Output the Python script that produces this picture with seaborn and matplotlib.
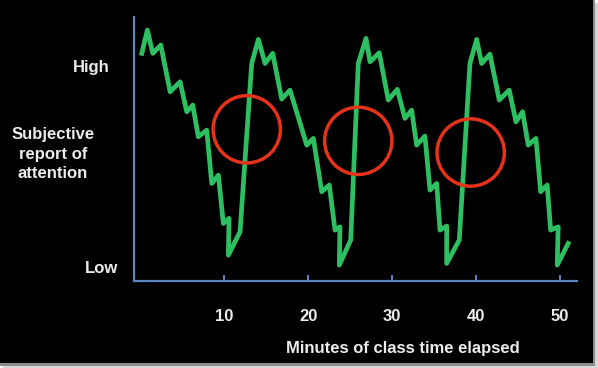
import numpy as np
import pandas as pd
import matplotlib
matplotlib.use("Agg")
import matplotlib.pyplot as plt
import seaborn as sns
from matplotlib.patches import Rectangle

# attention trace (0 = Low, 10 = High)
minutes = [0.17, 0.83, 1.48, 2.43, 3.54, 4.73, 5.52, 6.24, 6.90, 7.90,
           8.50, 9.29, 9.88, 10.56, 10.48, 11.87, 13.26, 14.05, 14.85, 15.76,
           16.83, 17.82, 19.81, 20.60, 21.60, 22.50, 23.18, 23.77, 23.69, 25.05,
           25.95, 26.87, 27.35, 28.45, 29.52, 30.60, 31.51, 32.31, 32.90, 33.89,
           34.49, 35.29, 35.68, 36.48, 36.48, 37.98, 39.25, 40.05, 40.64, 41.63,
           42.74, 43.93, 44.73, 45.52, 46.19, 47.11, 47.67, 48.45, 48.86, 49.76,
           49.64, 50.95]
attention = [10.63, 11.78, 10.63, 11.04, 8.73, 9.22, 7.74, 8.07, 6.50, 6.83,
             4.19, 4.60, 2.21, 2.46, 0.64, 1.80, 10.13, 11.32, 10.13, 10.63,
             8.37, 8.81, 6.09, 6.42, 3.78, 4.11, 1.88, 2.04, 0.15, 1.39,
             10.13, 11.37, 10.21, 10.66, 8.32, 8.85, 7.41, 7.82, 6.09, 6.53,
             3.86, 4.19, 1.88, 2.08, 0.23, 1.39, 10.13, 11.32, 10.13, 10.59,
             8.32, 8.81, 7.24, 7.74, 6.09, 6.42, 3.78, 4.11, 1.88, 2.04,
             0.15, 1.22]

# red circles marking the attention switch
circle_x = [12.67, 25.95, 39.34]
circle_y = [6.87, 6.30, 5.72]

xticks = [10, 20, 30, 40, 50]

W, H = 598, 368
fig = plt.figure(figsize=(W / 100, H / 100), dpi=100)
fig.patch.set_facecolor("white")

# screenshot shadow + black slide background
fig.patches.append(Rectangle((3 / W, 0), 1, 1 - 3 / H, transform=fig.transFigure,
                             facecolor="#d6d6d6", edgecolor="none", zorder=-3))
fig.patches.append(Rectangle((0, 2 / H), 595 / W, 1, transform=fig.transFigure,
                             facecolor="#8c8c8c", edgecolor="none", zorder=-2))
fig.patches.append(Rectangle((0, 5 / H), 593 / W, 1, transform=fig.transFigure,
                             facecolor="black", edgecolor="none", zorder=-1))

ax = fig.add_axes([134 / W, 87 / H, 443 / W, 264 / H])
ax.set_facecolor("none")

df = pd.DataFrame({"minutes": minutes, "attention": attention})
sns.lineplot(data=df, x="minutes", y="attention", sort=False, estimator=None,
             color="#2dbf62", linewidth=3.4, ax=ax)

circles = pd.DataFrame({"x": circle_x, "y": circle_y})
sns.scatterplot(data=circles, x="x", y="y", s=2350, marker="o",
                facecolor="none", edgecolor="#e5321a", linewidth=2.5, ax=ax, zorder=5)

ax.set_xlim(-0.76, 52.0)
ax.set_ylim(-0.64, 12.43)

axis_col = "#5a86c0"
for side in ["top", "right"]:
    ax.spines[side].set_visible(False)
for side in ["left", "bottom"]:
    ax.spines[side].set_color(axis_col)
    ax.spines[side].set_linewidth(1.6)

txt = "#ececec"
font = "Liberation Sans"
ax.set_xticks(xticks)
ax.set_xticklabels([str(t) for t in xticks], fontsize=12, fontweight="bold",
                   color=txt, family=font)
ax.tick_params(axis="x", direction="in", length=4, width=1.4, color=axis_col, pad=20)
ax.set_yticks([])
ax.set_xlabel("")
ax.set_ylabel("")

fig.text(110 / W, 1 - 71.7 / H, "High", ha="right", va="baseline",
         fontsize=12, fontweight="bold", color=txt, family=font)
fig.text(118 / W, 1 - 273 / H, "Low", ha="right", va="baseline",
         fontsize=12, fontweight="bold", color=txt, family=font)
fig.text(53 / W, 1 - 139.3 / H, "Subjective", ha="center", va="baseline",
         fontsize=12, fontweight="bold", color=txt, family=font)
fig.text(53 / W, 1 - 159 / H, "report of", ha="center", va="baseline",
         fontsize=12, fontweight="bold", color=txt, family=font)
fig.text(53 / W, 1 - 178.3 / H, "attention", ha="center", va="baseline",
         fontsize=12, fontweight="bold", color=txt, family=font)
fig.text(403 / W, 1 - 353.3 / H, "Minutes of class time elapsed", ha="center",
         va="baseline", fontsize=12, fontweight="bold", color=txt, family=font)

fig.savefig("out.png", dpi=100, facecolor=fig.get_facecolor())
